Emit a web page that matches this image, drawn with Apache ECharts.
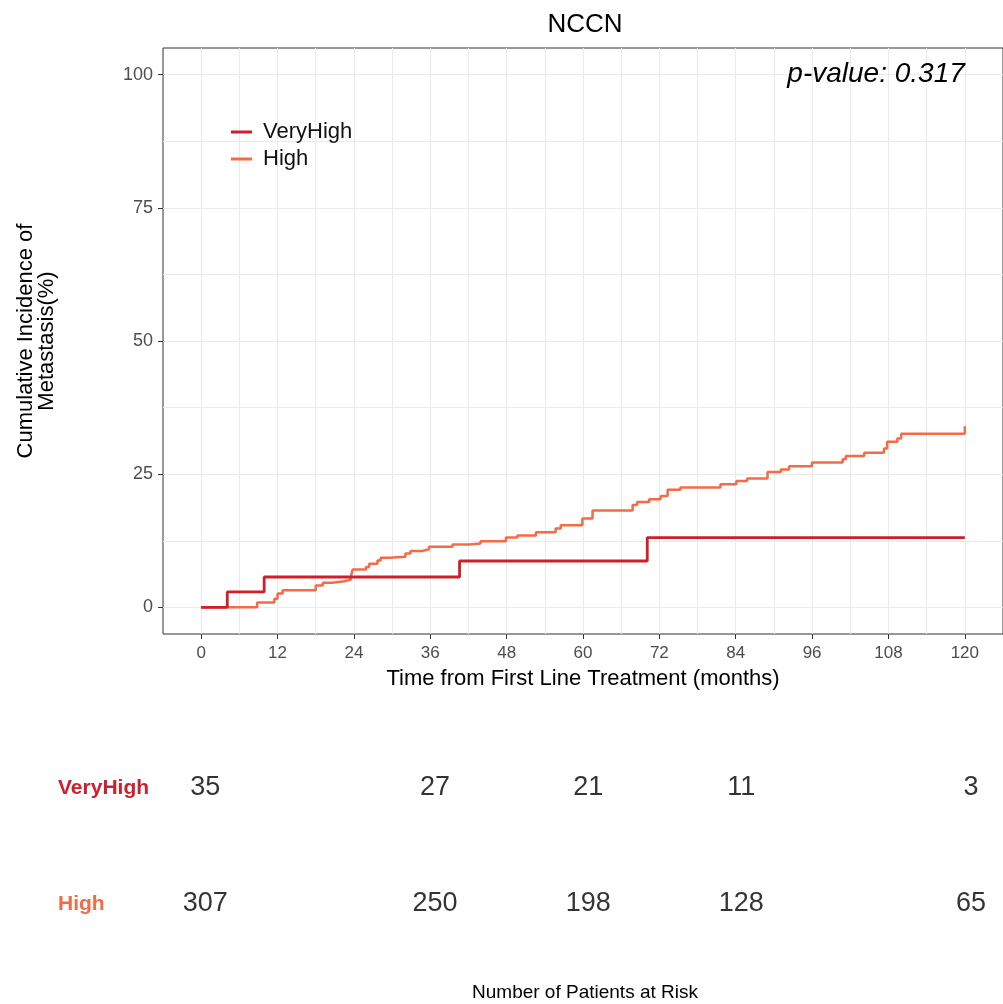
<!DOCTYPE html>
<html>
<head>
<meta charset="utf-8">
<script src="https://cdn.jsdelivr.net/npm/echarts@6/dist/echarts.min.js"></script>
<style>
html,body{margin:0;padding:0;background:#fff;}
#chart{width:1003px;height:1004px;}
</style>
</head>
<body>
<div id="chart"></div>
<script>
// ---- data ----
const seriesNames = ['VeryHigh', 'High'];
const veryHighTimes = [0, 4.1, 9.9, 40.6, 70.1, 120];
const veryHighCum   = [0, 2.9, 5.7, 8.7, 13.1, 13.1];
const highTimes = [0, 8.8, 11.5, 12.0, 12.8, 18.0, 19.1, 20.6, 22.5, 23.5,
                   23.8, 25.9, 26.4, 27.7, 28.2, 29.5, 32.1, 32.9, 34.8, 35.8,
                   39.5, 42.1, 43.9, 47.9, 49.7, 52.6, 55.7, 56.5, 59.9, 61.5,
                   67.8, 68.5, 70.4, 72.2, 73.3, 75.3, 81.6, 84.1, 85.8, 89.0,
                   91.1, 92.4, 96.0, 100.8, 101.3, 104.2, 107.3, 107.8, 109.4, 110.0,
                   120, 120];
const highCum   = [0, 0.9, 1.6, 2.6, 3.2, 4.1, 4.6, 4.9, 5.2, 5.7,
                   7.1, 7.6, 8.2, 8.8, 9.3, 9.5, 10.1, 10.6, 10.9, 11.4,
                   11.8, 12.0, 12.4, 13.1, 13.5, 14.1, 14.8, 15.4, 16.7, 18.2,
                   19.2, 19.8, 20.3, 20.9, 22.1, 22.5, 23.1, 23.7, 24.2, 25.4,
                   25.9, 26.5, 27.2, 27.8, 28.4, 29.0, 29.8, 31.1, 31.7, 32.6,
                   32.6, 34.0];
const xTickLabels = [0, 12, 24, 36, 48, 60, 72, 84, 96, 108, 120];
const xGridValues = [0, 6, 12, 18, 24, 30, 36, 42, 48, 54, 60, 66, 72, 78, 84, 90, 96, 102, 108, 114, 120];
const yTickLabels = [0, 25, 50, 75, 100];
const yGridValues = [0, 12.5, 25, 37.5, 50, 62.5, 75, 87.5, 100];
const riskRows = ['High', 'VeryHigh'];
const riskTimes = [0, 36, 60, 84, 120];
const riskVeryHigh = [35, 27, 21, 11, 3];
const riskHigh = [307, 250, 198, 128, 65];
const pValueText = 'p-value: 0.317';

// ---- styling ----
const colVH = '#CE1F2A';
const colH = '#F46B45';
const FONT = '"Liberation Sans", Arial, sans-serif';
const gridCol = '#EBEBEB';

const chart = echarts.init(document.getElementById('chart'), null, {renderer: 'canvas'});

const zip = (a, b) => a.map((v, i) => [v, b[i]]);

const riskLabel = {show: true, position: 'inside', formatter: p => String(p.value[2]),
                   fontSize: 27, color: '#000', fontFamily: FONT};

const option = {
  backgroundColor: '#fff',
  animation: false,
  textStyle: {fontFamily: FONT},
  title: {
    text: 'NCCN', left: 580, top: 7, textAlign: 'center',
    textStyle: {fontSize: 26, fontWeight: 'normal', color: '#000', fontFamily: FONT}
  },
  legend: {
    data: seriesNames,
    orient: 'vertical',
    left: 226, top: 115,
    itemWidth: 21, itemHeight: 3, itemGap: 3,
    icon: 'rect',
    textStyle: {fontSize: 22, color: '#111', lineHeight: 24, fontFamily: FONT, padding: [0, 0, 0, 6]}
  },
  grid: [
    {left: 163, right: 0, top: 48, bottom: 370, show: true, borderColor: '#333', borderWidth: 1, backgroundColor: '#fff'},
    {left: 167, right: 0, top: 730, bottom: 42, show: false}
  ],
  xAxis: [
    {type: 'value', gridIndex: 0, min: -6, max: 126,
     axisLine: {show: false, onZero: false}, axisLabel: {show: false},
     axisTick: {show: false, customValues: xGridValues},
     splitLine: {show: true, lineStyle: {color: gridCol, width: 1}}},
    {type: 'value', gridIndex: 0, min: -6, max: 126, position: 'bottom',
     axisLine: {show: false, onZero: false},
     axisTick: {show: true, length: 5, customValues: xTickLabels, lineStyle: {color: '#333'}},
     axisLabel: {show: true, customValues: xTickLabels, margin: 11, fontSize: 17, color: '#4D4D4D', fontFamily: FONT},
     splitLine: {show: false},
     name: 'Time from First Line Treatment (months)', nameLocation: 'middle', nameGap: 34,
     nameTextStyle: {fontSize: 22, color: '#000', fontFamily: FONT}},
    {type: 'value', gridIndex: 1, min: -6, max: 125,
     axisLine: {show: false, onZero: false}, axisTick: {show: false}, axisLabel: {show: false}, splitLine: {show: false},
     name: 'Number of Patients at Risk', nameLocation: 'middle', nameGap: 21,
     nameTextStyle: {fontSize: 19, color: '#000', fontFamily: FONT}}
  ],
  yAxis: [
    {type: 'value', gridIndex: 0, min: -5, max: 105,
     axisLine: {show: false, onZero: false}, axisLabel: {show: false},
     axisTick: {show: false, customValues: yGridValues},
     splitLine: {show: true, lineStyle: {color: gridCol, width: 1}}},
    {type: 'value', gridIndex: 0, min: -5, max: 105, position: 'left',
     axisLine: {show: false, onZero: false},
     axisTick: {show: true, length: 5, customValues: yTickLabels, lineStyle: {color: '#333'}},
     axisLabel: {show: true, customValues: yTickLabels, margin: 10, fontSize: 18, color: '#4D4D4D', fontFamily: FONT},
     splitLine: {show: false},
     name: 'Cumulative Incidence of\nMetastasis(%)', nameLocation: 'middle', nameGap: 106, nameRotate: 90,
     nameTextStyle: {fontSize: 22, color: '#000', lineHeight: 21, fontFamily: FONT}},
    {type: 'category', gridIndex: 1, data: riskRows,
     axisLine: {show: false, onZero: false}, axisTick: {show: false}, splitLine: {show: false},
     axisLabel: {
       show: true, align: 'left', margin: 109,
       formatter: v => v === 'VeryHigh' ? '{vh|' + v + '}' : '{h|' + v + '}',
       rich: {
         vh: {color: colVH, fontWeight: 'bold', fontSize: 21, fontFamily: FONT},
         h: {color: colH, fontWeight: 'bold', fontSize: 21, fontFamily: FONT}
       }
     }}
  ],
  series: [
    {name: 'VeryHigh', type: 'line', step: 'end', xAxisIndex: 0, yAxisIndex: 0,
     data: zip(veryHighTimes, veryHighCum), showSymbol: false, symbol: 'none',
     lineStyle: {color: colVH, width: 2.8}, itemStyle: {color: colVH}, z: 3},
    {name: 'High', type: 'line', step: 'end', xAxisIndex: 0, yAxisIndex: 0,
     data: zip(highTimes, highCum), showSymbol: false, symbol: 'none',
     lineStyle: {color: colH, width: 2.5}, itemStyle: {color: colH}, z: 2},
    {name: 'riskVH', type: 'scatter', xAxisIndex: 2, yAxisIndex: 2, silent: true,
     data: riskTimes.map((t, i) => [t, 'VeryHigh', riskVeryHigh[i]]),
     symbolSize: 2, itemStyle: {color: 'rgba(0,0,0,0)'}, label: riskLabel},
    {name: 'riskH', type: 'scatter', xAxisIndex: 2, yAxisIndex: 2, silent: true,
     data: riskTimes.map((t, i) => [t, 'High', riskHigh[i]]),
     symbolSize: 2, itemStyle: {color: 'rgba(0,0,0,0)'}, label: riskLabel}
  ]
};
chart.setOption(option);

// p-value annotation anchored to data coordinates through the axis scale
const pPos = chart.convertToPixel({xAxisIndex: 0, yAxisIndex: 0}, [120, 100]);
chart.setOption({
  graphic: [{
    type: 'text', silent: true,
    x: pPos[0], y: pPos[1],
    style: {text: pValueText, fill: '#000', align: 'right', verticalAlign: 'middle',
            font: 'italic 28px ' + FONT}
  }]
});
</script>
</body>
</html>
